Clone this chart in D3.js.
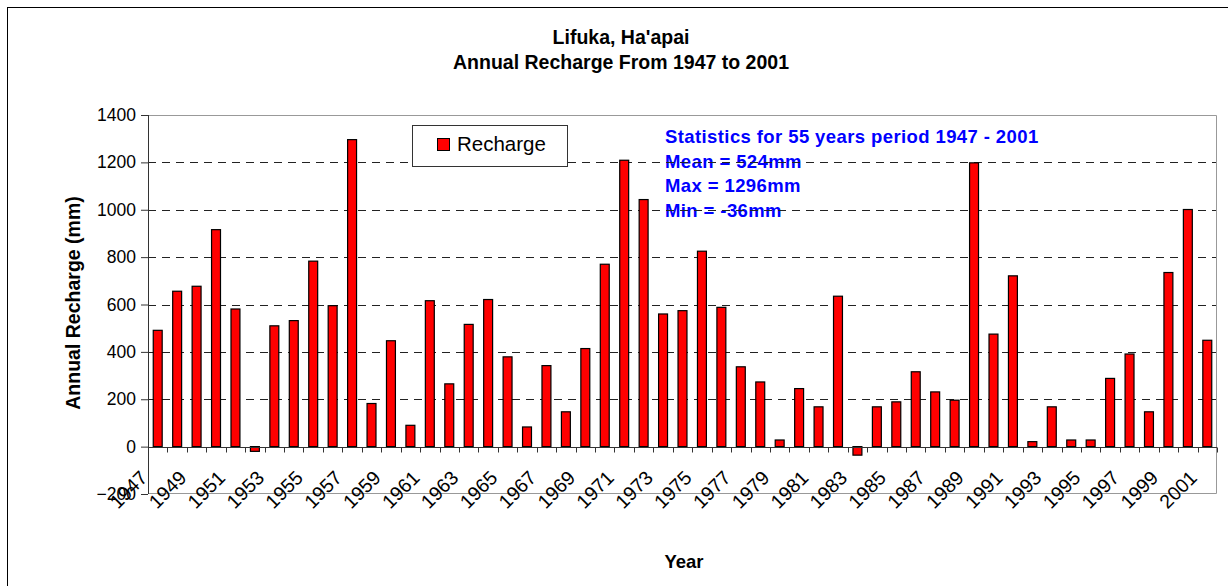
<!DOCTYPE html>
<html>
<head>
<meta charset="utf-8">
<script src="https://cdn.jsdelivr.net/npm/d3@7"></script>
<style>
  body { margin: 0; background: #fff; }
  text { font-family: "Liberation Sans", Arial, sans-serif; }
</style>
</head>
<body>
<div id="chart"></div>
<script>
// data
const years = d3.range(1947, 2002);
const recharge = [491, 656, 677, 916, 581, -20, 510, 532, 783, 595,
                  1296, 182, 447, 90, 616, 265, 516, 621, 379, 83,
                  342, 147, 414, 770, 1209, 1043, 560, 574, 825, 588,
                  337, 273, 28, 245, 168, 635, -36, 168, 189, 316,
                  231, 196, 1198, 475, 721, 21, 168, 28, 28, 288,
                  391, 147, 735, 1001, 449];
const yTicks = [-200, 0, 200, 400, 600, 800, 1000, 1200, 1400];
const titleLines = ["Lifuka, Ha'apai", "Annual Recharge From 1947 to 2001"];
const statsLines = ["Statistics for 55 years period 1947 - 2001",
                    "Mean = 524mm", "Max = 1296mm", "Min = -36mm"];

function chart(width, height, selector) {

  let margin = { top: 115, left: 148, right: 11, bottom: 92 };
  let chartWidth = width - margin.left - margin.right;
  let chartHeight = height - margin.top - margin.bottom;

  let svg = d3.select(selector)
    .append("svg")
    .attr("width", width)
    .attr("height", height);

  // outer frame (only top/left visible)
  svg.append("rect")
    .attr("x", 7.5).attr("y", 7.5)
    .attr("width", width + 10).attr("height", height + 10)
    .attr("fill", "none").attr("stroke", "#000");

  // titles
  svg.selectAll(".title")
    .data(titleLines)
    .join("text")
    .attr("class", "title")
    .attr("x", 621)
    .attr("y", (d, i) => 44 + i * 25)
    .attr("text-anchor", "middle")
    .attr("font-size", "19.5px")
    .attr("font-weight", "bold")
    .text(d => d);

  let x = d3.scaleBand()
    .domain(years)
    .range([0, chartWidth])
    .paddingInner(0.54)
    .paddingOuter(0.27);

  let y = d3.scaleLinear()
    .domain([-200, 1400])
    .range([chartHeight, 0]);

  let chartG = svg.append("g")
    .attr("transform", "translate(" + margin.left + "," + margin.top + ")");

  // stats text (under gridlines like the reference)
  chartG.selectAll(".stats")
    .data(statsLines)
    .join("text")
    .attr("class", "stats")
    .attr("x", 517)
    .attr("y", (d, i) => 28 + i * 24.5)
    .attr("fill", "#0000ff")
    .attr("font-size", "18.5px")
    .attr("font-weight", "bold")
    .attr("letter-spacing", "0.4px")
    .text(d => d);

  // gridlines
  chartG.selectAll(".grid")
    .data(yTicks.filter(d => d > 0 && d < 1400))
    .join("line")
    .attr("class", "grid")
    .attr("x1", 0).attr("x2", chartWidth)
    .attr("y1", d => Math.round(y(d)) + 0.5)
    .attr("y2", d => Math.round(y(d)) + 0.5)
    .attr("stroke", "#222")
    .attr("stroke-dasharray", "8,6");

  // plot border top / right / bottom
  chartG.append("path")
    .attr("d", `M0,0.5H${chartWidth - 0.5}V${chartHeight - 0.5}H0`)
    .attr("fill", "none")
    .attr("stroke", "#999");

  // bars
  chartG.selectAll(".bar")
    .data(recharge)
    .join("rect")
    .attr("class", "bar")
    .attr("x", (d, i) => x(years[i]))
    .attr("width", x.bandwidth())
    .attr("y", d => y(Math.max(0, d)))
    .attr("height", d => Math.abs(y(d) - y(0)))
    .attr("fill", "#ff0000")
    .attr("stroke", "#000")
    .attr("stroke-width", 1.2);

  // y axis
  let yAxis = d3.axisLeft(y)
    .tickValues(yTicks)
    .tickSize(7)
    .tickPadding(5)
    .tickFormat(d3.format("d"));

  let yG = chartG.append("g").call(yAxis);
  yG.select(".domain").attr("stroke", "#333").attr("d", `M0.5,0V${chartHeight}`);
  yG.selectAll(".tick line").attr("stroke", "#333");
  yG.selectAll("text")
    .attr("font-size", "17.5px")
    .attr("font-family", "Liberation Sans, Arial, sans-serif")
    .attr("fill", "#000");

  // zero line with category ticks
  let zeroY = Math.round(y(0)) + 0.5;
  chartG.append("line")
    .attr("x1", 0).attr("x2", chartWidth)
    .attr("y1", zeroY).attr("y2", zeroY)
    .attr("stroke", "#333");

  let step = x.step();
  chartG.selectAll(".ctick")
    .data(d3.range(years.length + 1))
    .join("line")
    .attr("class", "ctick")
    .attr("x1", i => Math.round(i * step) + 0.5)
    .attr("x2", i => Math.round(i * step) + 0.5)
    .attr("y1", zeroY).attr("y2", zeroY + 5)
    .attr("stroke", "#333");

  // rotated year labels (every other year)
  chartG.selectAll(".xlab")
    .data(years.filter((d, i) => i % 2 === 0))
    .join("text")
    .attr("class", "xlab")
    .attr("transform", d => {
      let cx = x(d) + x.bandwidth() / 2 - 9;
      return "translate(" + cx + "," + (chartHeight - 15) + ") rotate(-45)";
    })
    .attr("text-anchor", "end")
    .attr("font-size", "19.5px")
    .text(d => d);

  // axis titles
  svg.append("text")
    .attr("transform", "translate(80,303) rotate(-90)")
    .attr("text-anchor", "middle")
    .attr("font-size", "19.5px")
    .attr("font-weight", "bold")
    .text("Annual Recharge (mm)");

  svg.append("text")
    .attr("x", 684).attr("y", 568)
    .attr("text-anchor", "middle")
    .attr("font-size", "18.5px")
    .attr("font-weight", "bold")
    .text("Year");

  // legend
  let legend = svg.append("g").attr("transform", "translate(412,125)");
  legend.append("rect")
    .attr("x", 0.5).attr("y", 0.5)
    .attr("width", 155).attr("height", 41)
    .attr("fill", "#fff").attr("stroke", "#333");
  legend.append("rect")
    .attr("x", 25.5).attr("y", 13.5)
    .attr("width", 12).attr("height", 12)
    .attr("fill", "#ff0000").attr("stroke", "#000");
  legend.append("text")
    .attr("x", 45).attr("y", 26)
    .attr("font-size", "20.5px")
    .text("Recharge");
}

chart(1228, 586, "#chart");
</script>
</body>
</html>
